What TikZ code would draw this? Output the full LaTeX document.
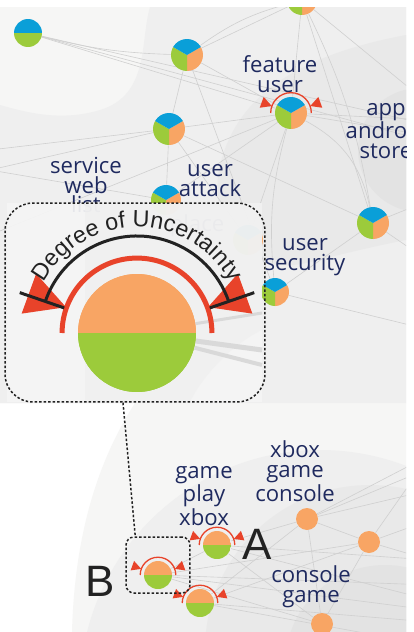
\documentclass[tikz,border=0pt]{standalone}
\usepackage{fontspec}
\usetikzlibrary{arrows.meta,positioning,calc,decorations.text}
\newfontfamily\lblfont{Open Sans}
\newfontfamily\arialfont{Liberation Sans}
\definecolor{pieBlue}{HTML}{0A9FD8}
\definecolor{pieGreen}{HTML}{9CCB3B}
\definecolor{pieOrange}{HTML}{F8A564}
\definecolor{uncRed}{HTML}{E8432A}
\definecolor{lblNavy}{HTML}{1F2A5F}
\definecolor{edgeGray}{HTML}{D0D0D0}
\definecolor{bandGray}{HTML}{D9D9D9}
\definecolor{degBlack}{HTML}{222222}
\definecolor{bgA}{HTML}{F6F6F5}
\definecolor{bgB}{HTML}{EFEFEF}
\definecolor{bgC}{HTML}{E9E9E9}
\definecolor{bgD}{HTML}{E3E3E3}
\definecolor{panelFill}{HTML}{F5F5F5}
\definecolor{panelDark}{HTML}{EEEEEE}
\pgfdeclarelayer{back}
\pgfdeclarelayer{links}
\pgfsetlayers{back,links,main}
\newcommand{\uncert}[3]{%
  \draw[uncRed, line width=#3] ($(#1)+(180:#2*1.27)$) arc[start angle=180, end angle=360, radius=#2*1.27];
  \fill[uncRed] ($(#1)+(200:#2*1.28)$) -- ($(#1)+(200:#2*1.95)+(290:#2*0.36)$) -- ($(#1)+(200:#2*1.95)+(110:#2*0.36)$) -- cycle;
  \fill[uncRed] ($(#1)+(340:#2*1.28)$) -- ($(#1)+(340:#2*1.95)+(250:#2*0.36)$) -- ($(#1)+(340:#2*1.95)+(70:#2*0.36)$) -- cycle;}

\begin{document}
\begin{tikzpicture}[x=0.02cm, y=-0.02cm,
  pie/.style={circle, inner sep=0pt, minimum size=#1, path picture={
    \fill[pieOrange] (path picture bounding box.center) -- +(-30:60) -- +(30:60) -- +(90:60) -- cycle;
    \fill[pieGreen] (path picture bounding box.center) -- +(90:60) -- +(150:60) -- +(210:60) -- cycle;
    \fill[pieBlue] (path picture bounding box.center) -- +(210:60) -- +(270:60) -- +(330:60) -- cycle;}},
  halfBG/.style={circle, inner sep=0pt, minimum size=#1, path picture={
    \fill[pieBlue] (path picture bounding box.west) rectangle (path picture bounding box.north east);
    \fill[pieGreen] (path picture bounding box.west) rectangle (path picture bounding box.south east);}},
  halfOG/.style={circle, inner sep=0pt, minimum size=#1, path picture={
    \fill[pieOrange] (path picture bounding box.west) rectangle (path picture bounding box.north east);
    \fill[pieGreen] (path picture bounding box.west) rectangle (path picture bounding box.south east);}},
  dot/.style={circle, inner sep=0pt, fill=pieOrange, minimum size=0.44cm},
  lbl/.style={font=\lblfont\fontsize{12.6}{11.3}\selectfont, text=lblNavy, align=center, inner sep=0pt},
  bigletter/.style={font=\arialfont\fontsize{25}{25}\selectfont, text=degBlack, inner sep=0pt},
  link/.style={draw=edgeGray, line width=0.35pt},
  band/.style={draw=bandGray},
  degline/.style={draw=degBlack, line width=0.06cm},
  frame/.style={draw=degBlack, line width=0.03cm, dash pattern=on 0.05cm off 0.04cm},
  zoomline/.style={draw=degBlack, line width=0.03cm, dash pattern=on 0.05cm off 0.04cm}
]
\useasboundingbox (0,0) rectangle (413,632);

\begin{scope}
  \clip (0,7) rectangle (406,632);
  \node[halfBG=0.56cm] (tleft) at (28,33) {};
  \node[pie=0.64cm] (thub) at (187,55) {};
  \node[pie=0.6cm] (ttop) at (302,0) {};
  \node[pie=0.64cm] (feat) at (291,113) {};
  \node[pie=0.64cm] (mid) at (169,129) {};
  \node[pie=0.6cm] (svc) at (166,200) {};
  \node[pie=0.6cm] (ghost) at (248,240) {};
  \node[pie=0.64cm] (app) at (373,223) {};
  \node[pie=0.56cm] (usec) at (275,292) {};
  \node[dot] (xbox) at (307,519) {};
  \node[dot] (xside) at (369,542) {};
  \node[dot] (cgame) at (322,624) {};
  \node[halfOG=0.56cm] (ga) at (217,545) {};
  \node[halfOG=0.56cm] (gb) at (158,575) {};
  \node[halfOG=0.56cm] (gc) at (200,603) {};

  \node[lbl] (lfeat) at (280,74) {feature\\user};
  \node[lbl] (lapp) at (386,131) {app\\android\\store};
  \node[lbl] (lsvc) at (86,185) {service\\web\\list};
  \node[lbl] (latk) at (210,181) {user\\attack};
  \node[lbl] (lplace) at (197,226) {place};
  \node[lbl] (lsec) at (305,257) {user\\security};
  \node[lbl] (lxbox) at (295,471) {xbox\\game\\console};
  \node[lbl] (lplay) at (204,496) {game\\play\\xbox};
  \node[lbl] (lcons) at (311,587) {console\\game};

  \uncert{feat}{16}{0.026cm}
  \uncert{ga}{14}{0.026cm}
  \uncert{gb}{14}{0.026cm}
  \uncert{gc}{14}{0.026cm}
\end{scope}

\coordinate (eR1) at (430,125);
\coordinate (eR2) at (430,142);
\coordinate (eR3) at (430,105);
\coordinate (eR4) at (430,120);
\coordinate (eR5) at (430,136);
\coordinate (eR6) at (430,262);
\coordinate (eR7) at (430,200);
\coordinate (eR8) at (430,330);
\coordinate (eL1) at (-10,170);
\coordinate (eL2) at (-10,150);
\coordinate (eL3) at (-10,235);
\coordinate (eR10) at (430,455);
\coordinate (eR11) at (430,468);
\coordinate (eR12) at (430,490);
\coordinate (eR13) at (430,520);
\coordinate (eR14) at (430,560);
\coordinate (eR15) at (430,600);
\coordinate (eR16) at (430,585);
\coordinate (eR17) at (430,610);
\coordinate (eR18) at (430,622);
\coordinate (eR19) at (430,645);

\begin{pgfonlayer}{back}
  \fill[white] (0,0) rectangle (413,632);
  \begin{scope}
    \clip (0,7) rectangle (406,632);
    \fill[bgA] (0,7) -- (406,7) -- (406,632) -- (72,632) .. controls (75,520) and (105,450) .. (135,403) -- (0,403) -- cycle;
    \fill[bgB] (150,7) .. controls (140,40) and (150,95) .. (100,110) .. controls (60,122) and (25,112) .. (0,105) -- (0,403) -- (406,403) -- (406,7) -- cycle;
    \fill[bgC] (406,35) .. controls (300,55) and (232,95) .. (218,175) .. controls (212,250) and (262,275) .. (310,262) .. controls (350,252) and (385,244) .. (406,240) -- cycle;
    \fill[bgD] (420,150) circle[radius=62];
    \fill[bgB] (320,690) circle[radius=240];
    \fill[bgC] (370,650) circle[radius=165];
    \fill[bgD] (385,665) circle[radius=100];
  \end{scope}
\end{pgfonlayer}

\begin{pgfonlayer}{links}
  \begin{scope}
    \clip (0,7) rectangle (406,632);
    \draw[link] (tleft) -- (feat);
    \draw[link] (tleft) -- (eR1);
    \draw[link] (tleft) -- (eR2);
    \draw[link] (tleft) to[bend right=6] (thub);
    \draw[link] (thub) to[bend left=10] (ttop);
    \draw[link] (thub) -- (ttop);
    \draw[link] (thub) -- (feat);
    \draw[link] (thub) -- (mid);
    \draw[link] (thub) -- (usec);
    \draw[link] (ttop) -- (feat);
    \draw[link] (ttop) to[bend left=8] (app);
    \draw[link] (ttop) -- (app);
    \draw[link] (ttop) -- (eR3);
    \draw[link] (feat) -- (mid);
    \draw[link] (feat) -- (svc);
    \draw[link] (feat) to[bend left=25] (app);
    \draw[link] (feat) to[bend right=10] (usec);
    \draw[link] (feat) -- (eR4);
    \draw[link] (feat) -- (eR5);
    \draw[link] (feat) -- (eL3);
    \draw[link] (mid) -- (eL1);
    \draw[link] (mid) -- (eL2);
    \draw[link] (mid) -- (svc);
    \draw[link] (mid) -- (app);
    \draw[link] (svc) -- (eL1);
    \draw[link] (ghost) -- (feat);
    \draw[link] (ghost) -- (mid);
    \draw[link] (app) -- (usec);
    \draw[link] (app) -- (eR6);
    \draw[link] (app) -- (eR7);
    \draw[link] (usec) -- (eR8);
    \draw[link] (xbox) -- (ga);
    \draw[link] (xbox) -- (xside);
    \draw[link] (xbox) -- (cgame);
    \draw[link] (xbox) -- (eR10);
    \draw[link] (xbox) -- (eR11);
    \draw[link] (xbox) -- (eR12);
    \draw[link] (xbox) -- (gc);
    \draw[link] (xside) -- (eR13);
    \draw[link] (xside) -- (eR14);
    \draw[link] (xside) -- (cgame);
    \draw[link] (xside) -- (eR10);
    \draw[link] (ga) -- (eR15);
    \draw[link] (ga) -- (cgame);
    \draw[link] (ga) -- (gb);
    \draw[link] (ga) -- (eR14);
    \draw[link] (gb) -- (eR16);
    \draw[link] (gb) -- (eR17);
    \draw[link] (gb) -- (cgame);
    \draw[link] (gb) -- (xside);
    \draw[link] (gc) -- (eR18);
    \draw[link] (gc) -- (eR19);
    \draw[link] (gc) -- (xside);
  \end{scope}
\end{pgfonlayer}

\fill[panelFill, opacity=0.93] (7,203) rectangle (262,402);
\fill[panelDark, opacity=0.6] (85,203) -- (262,203) -- (262,330) .. controls (230,345) and (200,380) .. (190,402) -- (85,402) -- cycle;
\coordinate (bandA) at (262,313);
\coordinate (bandB) at (262,350);
\coordinate (bandC) at (262,365);
\node[halfOG=2.36cm] (bigB) at (137,333) {};
\draw[band, line width=0.06cm] (bigB) -- (bandA);
\draw[band, line width=0.1cm] (bigB) -- (bandB);
\draw[band, line width=0.08cm] (bigB) -- (bandC);
\node[halfOG=2.36cm] at (bigB) {};
\uncert{bigB}{59}{0.1cm}
\draw[degline] ($(bigB)+(199:124)$) -- ($(bigB)+(199:77)$);
\draw[degline] ($(bigB)+(341:124)$) -- ($(bigB)+(341:77)$);
\draw[degline] ($(bigB)+(199:97)$) arc[start angle=199, end angle=341, radius=97];
\path[decorate, decoration={text along path, text align=center,
  text={|\arialfont\fontsize{13.3}{16}\selectfont\color{degBlack}|Degree of Uncertainty}}]
  ($(bigB)+(190:106)$) arc[start angle=190, end angle=350, radius=106];
\node[frame, rounded corners=0.56cm, minimum width=5.2cm, minimum height=3.98cm] (inset) at (135,302.5) {};

\node[frame, rounded corners=0.16cm, minimum width=1.28cm, minimum height=1.12cm] (zoomB) at (158,565) {};
\draw[zoomline] ([xshift=-0.24cm]inset.south) -- ([xshift=0.2cm]zoomB.north west);
\node[bigletter] (letA) at (257,544) {A};
\node[bigletter] (letB) at (100,581) {B};
\end{tikzpicture}
\end{document}
